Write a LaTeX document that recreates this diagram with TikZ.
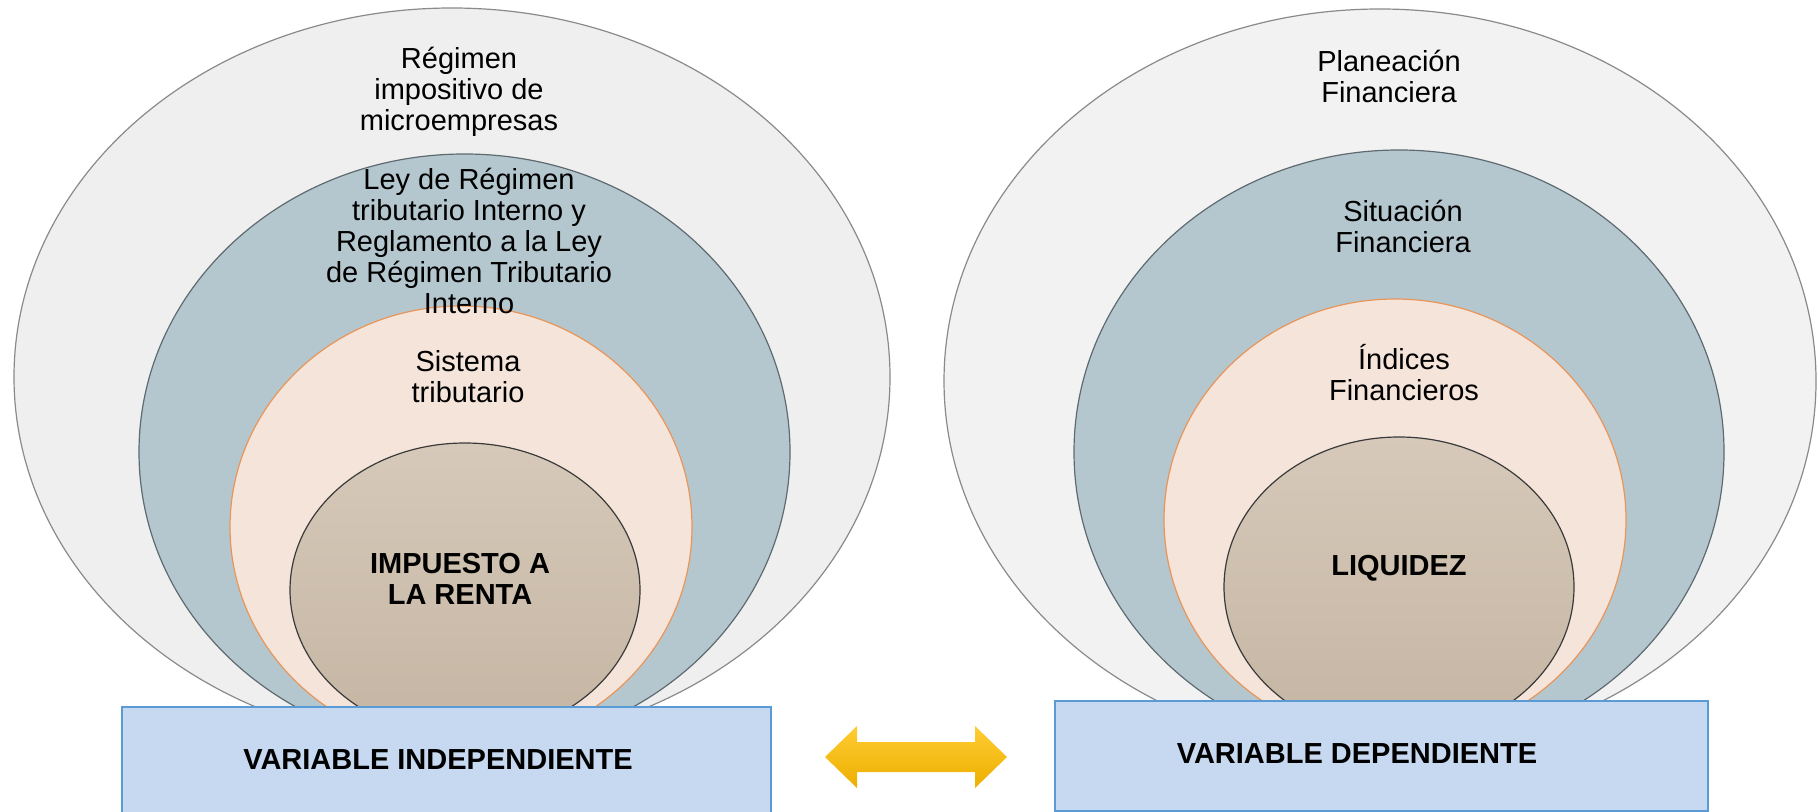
\documentclass[tikz,border=0pt]{standalone}
\usepackage{fontspec}
\setmainfont{Liberation Sans}
\usetikzlibrary{shapes.geometric}
\definecolor{outerL}{HTML}{EFEFEF}
\definecolor{outerR}{HTML}{F2F2F2}
\definecolor{outerline}{HTML}{8A8A8A}
\definecolor{bluefill}{HTML}{B5C7CE}
\definecolor{blueline}{HTML}{5E6A6F}
\definecolor{peachfill}{HTML}{F5E4DA}
\definecolor{peachline}{HTML}{E8955A}
\definecolor{tantop}{HTML}{D6C9B9}
\definecolor{tanbot}{HTML}{C5B5A3}
\definecolor{tanline}{HTML}{3A3A3A}
\definecolor{boxfill}{HTML}{C6D9F0}
\definecolor{boxline}{HTML}{5B9BD5}
\definecolor{arrowtop}{HTML}{FFCC33}
\definecolor{arrowbot}{HTML}{EDAF00}
\begin{document}
\begin{tikzpicture}[x=0.5pt,y=-0.5pt,
  ell/.style={ellipse, inner sep=0pt, line width=0.6pt},
  outerell/.style={ell, draw=outerline},
  blueell/.style={ell, draw=blueline, fill=bluefill},
  peachell/.style={ell, draw=peachline, fill=peachfill},
  tanell/.style={ell, draw=tanline, top color=tantop, bottom color=tanbot},
  lbl/.style={align=center, inner sep=0pt, font=\fontsize{14.5}{15.5}\selectfont},
  blbl/.style={align=center, inner sep=0pt, font=\fontsize{14.5}{15.5}\selectfont\bfseries},
  varbox/.style={draw=boxline, fill=boxfill, line width=1.2pt, inner sep=0pt}]
\useasboundingbox (0,0) rectangle (1818,812);

% left group
\node[outerell, fill=outerL, minimum width=438pt, minimum height=369pt] (lo) at (452,377) {};
\node[blueell, minimum width=325.5pt, minimum height=298pt] (lb) at (464.5,452) {};
\node[peachell, minimum width=231pt, minimum height=221pt] (lp) at (461,527) {};
\node[tanell, minimum width=175pt, minimum height=147pt] (lt) at (465,590) {};

% right group
\node[outerell, fill=outerR, minimum width=436pt, minimum height=372pt] (ro) at (1380,381) {};
\node[blueell, minimum width=325pt, minimum height=302pt] (rb) at (1399,452) {};
\node[peachell, minimum width=231pt, minimum height=221pt] (rp) at (1395,520) {};
\node[tanell, minimum width=175pt, minimum height=150pt] (rt) at (1399,587) {};

% left texts
\node[lbl] (t1) at (459,92) {Régimen\\impositivo de\\microempresas};
\node[lbl] (t2) at (469,241) {Ley de Régimen\\tributario Interno y\\Reglamento a la Ley\\de Régimen Tributario\\Interno};
\node[lbl] (t3) at (468,377) {Sistema\\tributario};
\node[blbl] (t4) at (460,579) {IMPUESTO A\\LA RENTA};

% right texts
\node[lbl] (t5) at (1389,76) {Planeación\\Financiera};
\node[lbl] (t6) at (1403,226) {Situación\\Financiera};
\node[lbl] (t7) at (1404,373) {Índices\\Financieros};
\node[blbl] (t8) at (1399,568) {LIQUIDEZ};

% boxes
\node[varbox, minimum width=324.5pt, minimum height=55pt] (lbox) at (446.5,762) {};
\node[blbl] (lboxt) at (438,760) {VARIABLE INDEPENDIENTE};
\node[varbox, minimum width=326.5pt, minimum height=55pt] (rbox) at (1381.5,756) {};
\node[blbl] (rboxt) at (1357,754) {VARIABLE DEPENDIENTE};

% double arrow
\path[top color=arrowtop, bottom color=arrowbot]
  (825,757) -- (857,726) -- (857,742) -- (975,742) -- (975,726) -- (1007,757)
  -- (975,788) -- (975,772) -- (857,772) -- (857,788) -- cycle;
\end{tikzpicture}
\end{document}
